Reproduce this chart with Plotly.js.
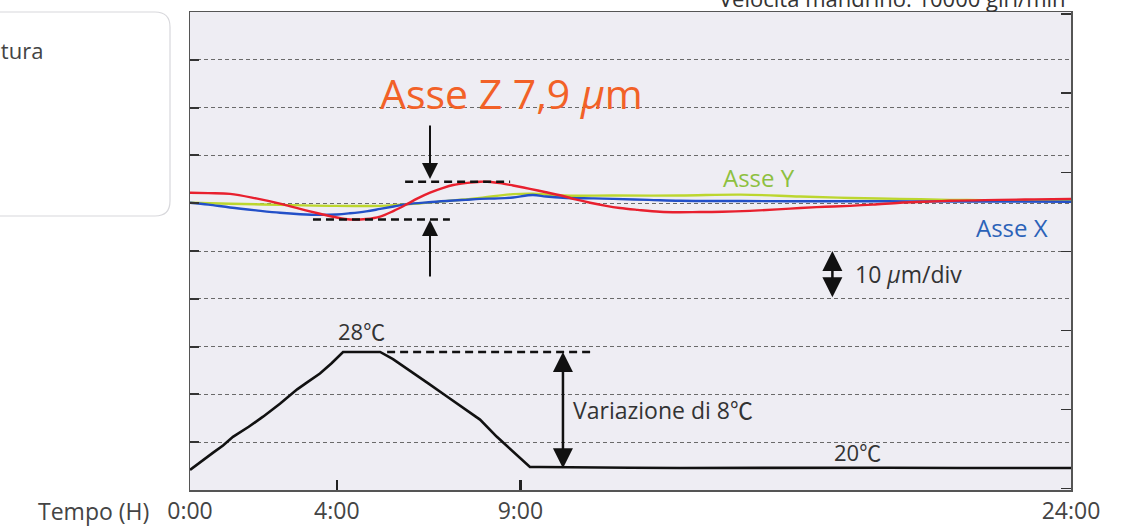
<!DOCTYPE html>
<html>
<head>
<meta charset="utf-8">
<script src="https://cdn.plot.ly/plotly-3.0.1.min.js"></script>
<style>html,body{margin:0;padding:0;background:#fff;}#chart{width:1125px;height:527px;}</style>
</head>
<body>
<div id="chart"></div>
<script>
// ---- Data (time in hours, displacement in µm, temperature in °C) ----
const zHours = [0, 0.5, 1.09, 1.8, 2.45, 3.0, 3.54, 4.0, 4.36, 4.8, 5.18, 5.55, 5.91, 6.2, 6.54, 6.9, 7.17, 7.5, 7.9, 8.2, 8.45, 8.8, 9.26, 9.7, 10.16, 10.5, 10.9, 11.3, 11.71, 12.2, 12.8, 13.3, 13.89, 14.5, 15.25, 16.0, 16.62, 17.3, 17.98, 18.6, 19.34, 20.0, 20.7, 21.4, 22.06, 23.0, 24.0];
const zValues = [2.2, 2.1, 1.95, 1.0, -0.1, -1.2, -2.2, -3.0, -3.4, -3.3, -2.8, -1.6, -0.2, 1.0, 2.2, 3.2, 3.8, 4.2, 4.5, 4.45, 4.2, 3.7, 3.0, 2.3, 1.5, 0.8, 0.1, -0.5, -1.0, -1.4, -1.8, -1.9, -1.85, -1.8, -1.6, -1.3, -1.0, -0.75, -0.55, -0.3, 0.1, 0.3, 0.5, 0.6, 0.7, 0.8, 0.9];

const xHours = [0, 0.5, 1.09, 1.8, 2.45, 3.0, 3.54, 4.0, 4.36, 4.8, 5.18, 5.55, 5.91, 6.5, 7.07, 7.5, 7.9, 8.4, 8.8, 9.34, 9.7, 10.16, 11.0, 11.52, 12.5, 13.35, 15, 17, 19, 21, 24];
const xValues = [0.1, -0.3, -0.9, -1.5, -2.0, -2.3, -2.45, -2.35, -2.1, -1.7, -1.2, -0.7, -0.2, 0.2, 0.5, 0.7, 0.9, 1.0, 1.2, 1.7, 1.4, 1.15, 1.0, 0.9, 0.7, 0.5, 0.45, 0.4, 0.4, 0.35, 0.3];

const yHours = [0, 1.09, 2.45, 3.81, 5.18, 6.08, 7.07, 7.9, 8.8, 9.34, 10.16, 11.52, 13.35, 15.0, 16.62, 18.0, 19.34, 20.7, 22, 24];
const yValues = [0.1, -0.1, -0.35, -0.55, -0.55, -0.15, 0.5, 1.1, 1.9, 2.0, 1.6, 1.6, 1.6, 1.8, 1.4, 1.1, 0.9, 0.7, 0.6, 0.5];

const tempHours = [0, 0.3, 0.63, 0.9, 1.17, 1.6, 1.99, 2.45, 2.92, 3.2, 3.54, 3.85, 4.17, 4.44, 4.8, 5.18, 5.53, 6.08, 6.5, 7.0, 7.45, 7.9, 8.36, 8.8, 9.26, 9.53, 10.62, 12, 13.35, 15, 17, 19, 21, 23, 24];
const tempValues = [19.8, 20.4, 21.0, 21.5, 22.1, 22.8, 23.5, 24.4, 25.4, 25.9, 26.5, 27.2, 28.0, 28.0, 28.0, 28.0, 27.5, 26.5, 25.8, 24.9, 24.1, 23.3, 22.1, 21.1, 20.0, 20.0, 20.0, 19.95, 19.93, 19.95, 19.93, 19.95, 19.93, 19.95, 19.93];

const timeTicks = [0, 4, 9, 24];
const timeTickLabels = ["0:00", "4:00", "9:00", "24:00"];

// ---- Layout helpers (pixel -> paper) ----
const W = 1125, H = 527, L = 190, R = 1071, T = 12, B = 490;
const px = x => (x - L) / (R - L);
const py = y => (B - y) / (B - T);

const FONT = '"Open Sans", "Noto Sans CJK JP", sans-serif';
const zMax = Math.max(...zValues), zMin = Math.min(...zValues);
const tMax = Math.max(...tempValues), tMin = Math.min(...tempValues);

const traces = [
  {x: yHours, y: yValues, mode: 'lines', line: {color: '#BCD62E', width: 2.4, shape: 'spline'}, name: 'Asse Y'},
  {x: xHours, y: xValues, mode: 'lines', line: {color: '#2350C8', width: 2.4, shape: 'spline'}, name: 'Asse X'},
  {x: zHours, y: zValues, mode: 'lines', line: {color: '#E8202E', width: 2.4, shape: 'spline'}, name: 'Asse Z'},
  {x: tempHours, y: tempValues, yaxis: 'y2', mode: 'lines', line: {color: '#111', width: 2.6}, name: 'Temperatura'}
];

const arrowBase = {xref: 'paper', yref: 'paper', text: '', showarrow: true, arrowhead: 2, arrowsize: 1.6, arrowwidth: 2, arrowcolor: '#111', axref: 'pixel', ayref: 'pixel'};

const annotations = [
  {xref: 'paper', yref: 'paper', x: px(1068), y: py(-2), xanchor: 'right', yanchor: 'middle', text: 'Velocità mandrino: 10000 giri/min', showarrow: false, font: {family: FONT, size: 22, color: '#333'}},
  {xref: 'paper', yref: 'paper', x: px(45), y: py(50), xanchor: 'right', yanchor: 'middle', text: 'Temperatura', showarrow: false, font: {family: FONT, size: 22, color: '#444'}},
  {xref: 'paper', yref: 'paper', x: px(378), y: py(93), xanchor: 'left', yanchor: 'middle', text: 'Asse Z 7,9 <i>μ</i>m', showarrow: false, font: {family: FONT, size: 41, color: '#F26127'}},
  {xref: 'paper', yref: 'paper', x: px(759), y: py(178), xanchor: 'center', yanchor: 'middle', text: 'Asse Y', showarrow: false, font: {family: FONT, size: 24, color: '#8DC03F'}},
  {xref: 'paper', yref: 'paper', x: px(1012), y: py(228), xanchor: 'center', yanchor: 'middle', text: 'Asse X', showarrow: false, font: {family: FONT, size: 24, color: '#2B62B8'}},
  {xref: 'paper', yref: 'paper', x: px(853), y: py(274), xanchor: 'left', yanchor: 'middle', text: '10 <i>μ</i>m/div', showarrow: false, font: {family: FONT, size: 23, color: '#333'}},
  {xref: 'paper', yref: 'paper', x: px(361), y: py(331), xanchor: 'center', yanchor: 'middle', text: '28℃', showarrow: false, font: {family: FONT, size: 22, color: '#333'}},
  {xref: 'paper', yref: 'paper', x: px(571), y: py(410), xanchor: 'left', yanchor: 'middle', text: 'Variazione di 8℃', showarrow: false, font: {family: FONT, size: 23, color: '#333'}},
  {xref: 'paper', yref: 'paper', x: px(857), y: py(452), xanchor: 'center', yanchor: 'middle', text: '20℃', showarrow: false, font: {family: FONT, size: 22, color: '#333'}},
  {xref: 'paper', yref: 'paper', x: px(151), y: py(511), xanchor: 'right', yanchor: 'middle', text: 'Tempo (H)', showarrow: false, font: {family: FONT, size: 23, color: '#444'}},
  Object.assign({}, arrowBase, {x: px(430), y: py(179), ax: 0, ay: -55}),
  Object.assign({}, arrowBase, {x: px(430), y: py(220), ax: 0, ay: 58}),
  Object.assign({}, arrowBase, {xref: 'x', yref: 'y', axref: 'x', ayref: 'y', x: 17.5, y: -10, ax: 17.5, ay: -20, arrowside: 'end+start', startarrowhead: 2, startarrowsize: 1.6, arrowwidth: 2.5}),
  Object.assign({}, arrowBase, {xref: 'x', yref: 'y2', axref: 'x', ayref: 'y2', x: 10.16, y: tMax, ax: 10.16, ay: tMin, arrowside: 'end+start', startarrowhead: 2, startarrowsize: 1.6, arrowwidth: 2.5})
];

const r = 15;
const bx0 = -20, bx1 = 170, by0 = 12, by1 = 216;
const boxPath = `M ${px(bx0)} ${py(by0)} L ${px(bx1 - r)} ${py(by0)} Q ${px(bx1)} ${py(by0)} ${px(bx1)} ${py(by0 + r)} L ${px(bx1)} ${py(by1 - r)} Q ${px(bx1)} ${py(by1)} ${px(bx1 - r)} ${py(by1)} L ${px(bx0)} ${py(by1)} Z`;

const shapes = [
  {type: 'path', xref: 'paper', yref: 'paper', path: boxPath, line: {color: '#D8D8DC', width: 1.2}, fillcolor: 'rgba(0,0,0,0)'},
  {type: 'line', xref: 'x', yref: 'y', x0: 5.86, x1: 8.72, y0: zMax, y1: zMax, line: {color: '#111', width: 2.5, dash: '8px,5px'}},
  {type: 'line', xref: 'x', yref: 'y', x0: 3.35, x1: 7.08, y0: zMin, y1: zMin, line: {color: '#111', width: 2.5, dash: '8px,5px'}},
  {type: 'line', xref: 'x', yref: 'y2', x0: 5.37, x1: 10.98, y0: tMax, y1: tMax, line: {color: '#111', width: 2.5, dash: '8px,5px'}}
];

const layout = {
  width: W, height: H,
  margin: {l: L, r: W - R, t: T, b: H - B, pad: 0},
  paper_bgcolor: '#ffffff',
  plot_bgcolor: '#EEEDF3',
  showlegend: false,
  font: {family: FONT, color: '#444'},
  xaxis: {
    range: [0, 24], tickvals: timeTicks, ticktext: timeTickLabels,
    ticks: 'inside', ticklen: 10, tickwidth: 2.5, tickcolor: '#222',
    showgrid: false, zeroline: false,
    showline: true, mirror: true, linecolor: '#555', linewidth: 1.5,
    tickfont: {family: FONT, size: 23, color: '#444'}
  },
  yaxis: {
    range: [-60, 40], dtick: 10, showticklabels: false,
    ticks: 'inside', ticklen: 9, tickwidth: 2, tickcolor: '#333',
    showgrid: true, gridcolor: '#6a6a6a', gridwidth: 1, griddash: '4px,3px',
    zeroline: false, showline: true, mirror: true, linecolor: '#555', linewidth: 1.5
  },
  yaxis2: {
    overlaying: 'y', side: 'right', range: [18.4, 51.65],
    tick0: 24, dtick: 5.5, showticklabels: false,
    ticks: 'inside', ticklen: 10, tickwidth: 1.5, tickcolor: '#333',
    showgrid: false, zeroline: false, showline: false
  },
  annotations: annotations,
  shapes: shapes
};

Plotly.newPlot('chart', traces, layout, {displayModeBar: false, staticPlot: true});
</script>
</body>
</html>
